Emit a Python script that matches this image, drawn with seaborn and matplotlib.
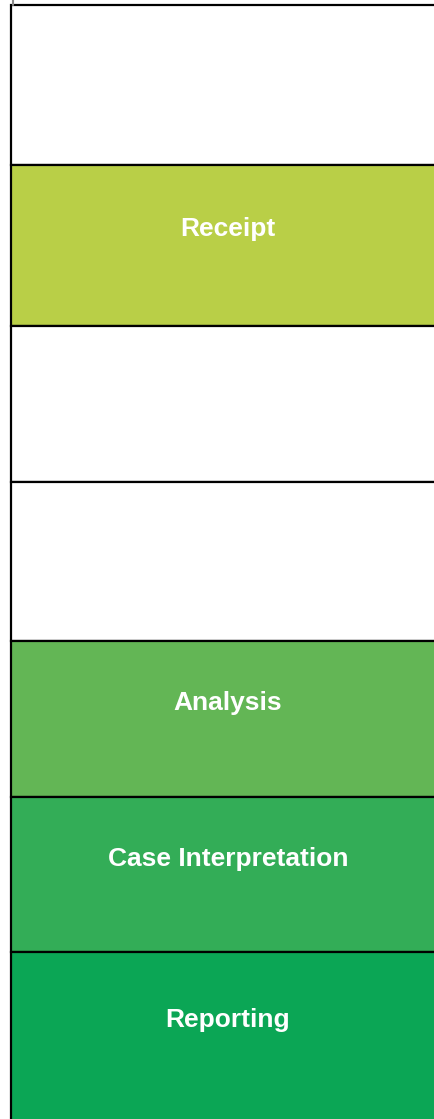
import numpy as np
import matplotlib
matplotlib.use('Agg')
import matplotlib.pyplot as plt
import seaborn as sns

# stages of the flow, top to bottom
stages = ["", "Receipt", "", "", "Analysis", "Case Interpretation", "Reporting"]
row_heights = [160, 161, 156, 159, 156, 155, 172]
fill_colors = ["#ffffff", "#b9cf47", "#ffffff", "#ffffff", "#63b655", "#33ad57", "#0ba655"]

sns.set_style("white")
plt.rcParams['font.family'] = ['Liberation Sans', 'DejaVu Sans']

fig = plt.figure(figsize=(4.34, 11.19), dpi=100)
ax = fig.add_axes([0, 0, 1, 1])

top = 5
box_left = 11
box_width = 434
tops = top + np.concatenate([[0], np.cumsum(row_heights)[:-1]])

ax.bar(box_left, row_heights, bottom=tops, width=box_width, align='edge',
       color=fill_colors, edgecolor='black', linewidth=1.6)

for name, t, h in zip(stages, tops, row_heights):
    if name:
        ax.text(box_left + box_width / 2, t + h * 0.38 + 3, name, color='white',
                fontsize=19, fontweight='bold', ha='center', va='center')

# little stub above the top left corner
ax.plot([13, 13], [0, top], color='#888888', linewidth=1.5)

ax.set_xlim(0, 434)
ax.set_ylim(1119, 0)
ax.axis('off')

fig.savefig('out.png', dpi=100)
